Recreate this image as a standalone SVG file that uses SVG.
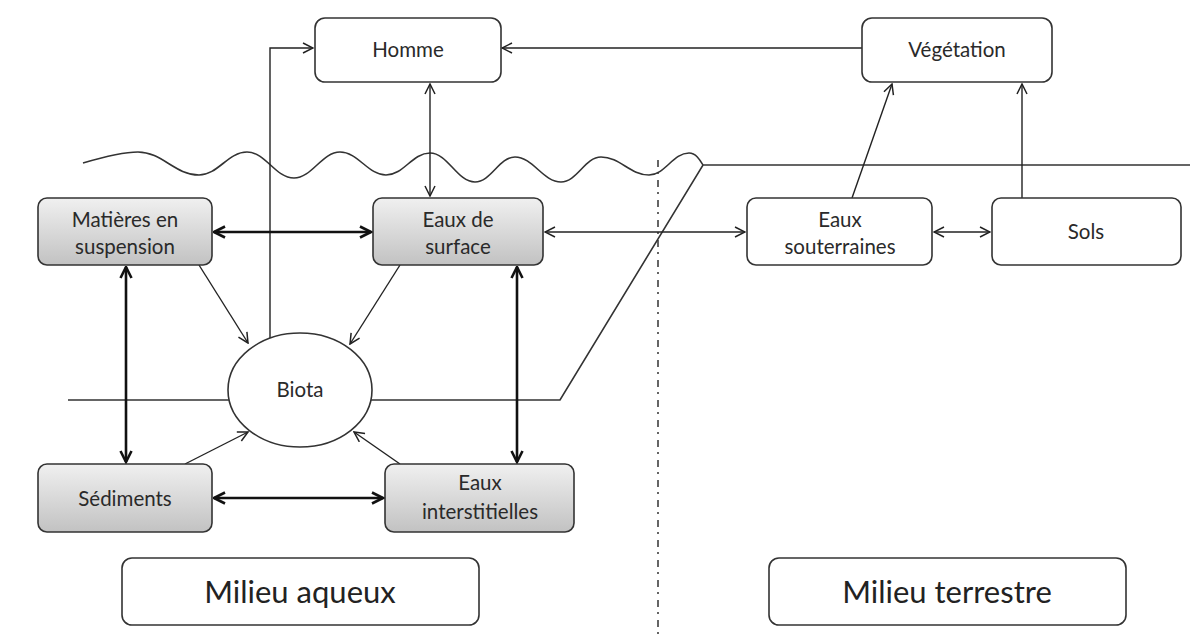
<svg xmlns="http://www.w3.org/2000/svg" width="1190" height="635" viewBox="0 0 1190 635">
<defs>
<linearGradient id="gray" x1="0" y1="0" x2="0" y2="1">
<stop offset="0" stop-color="#f0f0f0"/>
<stop offset="1" stop-color="#c2c2c2"/>
</linearGradient>
<marker id="a" viewBox="0 0 12 12" refX="11" refY="6" markerWidth="12" markerHeight="12" markerUnits="userSpaceOnUse" orient="auto-start-reverse">
<path d="M1,1 L11,6 L1,11" fill="none" stroke="#222" stroke-width="1.5"/>
</marker>
<marker id="t" viewBox="0 0 14 14" refX="12.5" refY="7" markerWidth="14" markerHeight="14" markerUnits="userSpaceOnUse" orient="auto-start-reverse">
<path d="M1.5,1.5 L12.5,7 L1.5,12.5" fill="none" stroke="#111" stroke-width="2.6"/>
</marker>
</defs>
<style>
.box{fill:#fff;stroke:#333;stroke-width:1.6}
.gbox{fill:url(#gray);stroke:#333;stroke-width:1.6}
.lbl{font-family:Lato,"Open Sans","Liberation Sans",sans-serif;font-size:20.5px;fill:#2a2a2a;text-anchor:middle}
.big{font-family:Lato,"Open Sans","Liberation Sans",sans-serif;font-size:31px;fill:#222;text-anchor:middle}
.thin{fill:none;stroke:#222;stroke-width:1.4}
.thick{fill:none;stroke:#111;stroke-width:2.6}
.bg{fill:none;stroke:#333;stroke-width:1.6}
</style>
<rect width="1190" height="635" fill="#fff"/>
<g id="background">
<path class="bg" d="M83,163 C110,155 125,152 138,152 C162,152 175,175 199,175 C218,175 228,152 247,152 C266,152 275,178 294,178 C312,178 322,152 340,152 C358,152 368,175 386,175 C404,175 412,153 430,153 C448,153 457,182 475,182 C491,182 499,157 515,157 C533,157 543,182 561,182 C577,182 585,157 601,157 C620,157 630,175 649,175 C665,175 673,153 689,153 C696,153 700,160 703,165"/>
<path class="bg" d="M68,400 H560 L703,165 H1190"/>
<path d="M658,160 V635" fill="none" stroke="#333" stroke-width="1.5" stroke-dasharray="7 5 2 6"/>
</g>
<g id="connectors">
<path class="thin" d="M270,338 V48 H313" marker-end="url(#a)"/>
<path class="thin" d="M862,48 H502" marker-end="url(#a)"/>
<path class="thin" d="M430,84 V196" marker-start="url(#a)" marker-end="url(#a)"/>
<path class="thick" d="M214,232 H371" marker-start="url(#t)" marker-end="url(#t)"/>
<path class="thin" d="M545,232 H745" marker-start="url(#a)" marker-end="url(#a)"/>
<path class="thin" d="M934,232 H990" marker-start="url(#a)" marker-end="url(#a)"/>
<path class="thin" d="M852,198 L892,84" marker-end="url(#a)"/>
<path class="thin" d="M1022,198 V84" marker-end="url(#a)"/>
<path class="thin" d="M199,265 L248,343" marker-end="url(#a)"/>
<path class="thin" d="M400,265 L350,344" marker-end="url(#a)"/>
<path class="thick" d="M126,267 V462" marker-start="url(#t)" marker-end="url(#t)"/>
<path class="thick" d="M517,267 V462" marker-start="url(#t)" marker-end="url(#t)"/>
<path class="thick" d="M214,498 H383" marker-start="url(#t)" marker-end="url(#t)"/>
<path class="thin" d="M185,464 L248,432" marker-end="url(#a)"/>
<path class="thin" d="M400,464 L354,432" marker-end="url(#a)"/>
</g>
<g id="homme"><rect class="box" x="315" y="18" width="186" height="64" rx="10"/><text class="lbl" x="408" y="57">Homme</text></g>
<g id="vegetation"><rect class="box" x="862" y="18" width="190" height="64" rx="10"/><text class="lbl" x="957" y="57">Végétation</text></g>
<g id="matieres"><rect class="gbox" x="38" y="198" width="174" height="67" rx="9"/><text class="lbl" x="125" y="227">Matières en</text><text class="lbl" x="125" y="254">suspension</text></g>
<g id="eaux-surface"><rect class="gbox" x="373" y="198" width="170" height="67" rx="9"/><text class="lbl" x="458" y="227">Eaux de</text><text class="lbl" x="458" y="254">surface</text></g>
<g id="eaux-souterraines"><rect class="box" x="747" y="198" width="185" height="67" rx="9"/><text class="lbl" x="840" y="227">Eaux</text><text class="lbl" x="840" y="254">souterraines</text></g>
<g id="sols"><rect class="box" x="992" y="198" width="189" height="67" rx="9"/><text class="lbl" x="1086" y="239">Sols</text></g>
<g id="biota"><ellipse cx="300" cy="390" rx="72" ry="57" fill="#fff" stroke="#333" stroke-width="1.6"/><text class="lbl" x="300" y="397">Biota</text></g>
<g id="sediments"><rect class="gbox" x="38" y="464" width="174" height="68" rx="9"/><text class="lbl" x="125" y="506">Sédiments</text></g>
<g id="eaux-interstitielles"><rect class="gbox" x="385" y="464" width="189" height="68" rx="9"/><text class="lbl" x="480" y="490">Eaux</text><text class="lbl" x="480" y="519">interstitielles</text></g>
<g id="milieu-aqueux"><rect class="box" x="122" y="558" width="357" height="67" rx="10"/><text class="big" x="300" y="603">Milieu aqueux</text></g>
<g id="milieu-terrestre"><rect class="box" x="769" y="558" width="357" height="67" rx="10"/><text class="big" x="947" y="603">Milieu terrestre</text></g>
</svg>
